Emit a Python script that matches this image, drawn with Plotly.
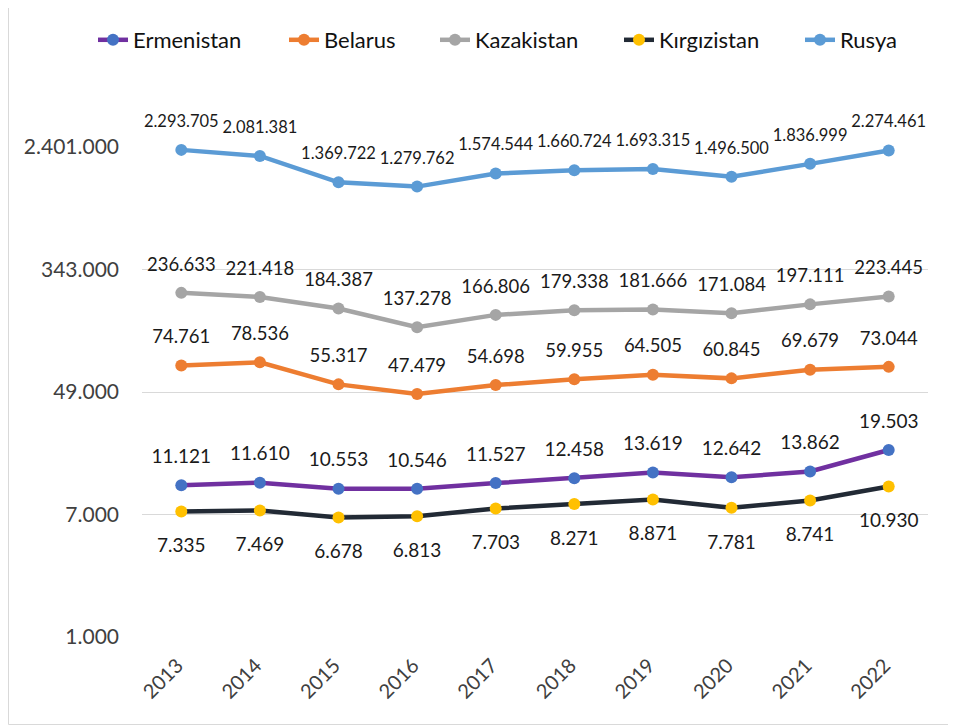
import numpy as np
import plotly.graph_objects as go

years = ["2013", "2014", "2015", "2016", "2017", "2018", "2019", "2020", "2021", "2022"]
ermenistan = [11121, 11610, 10553, 10546, 11527, 12458, 13619, 12642, 13862, 19503]
belarus = [74761, 78536, 55317, 47479, 54698, 59955, 64505, 60845, 69679, 73044]
kazakistan = [236633, 221418, 184387, 137278, 166806, 179338, 181666, 171084, 197111, 223445]
kirgizistan = [7335, 7469, 6678, 6813, 7703, 8271, 8871, 7781, 8741, 10930]
rusya = [2293705, 2081381, 1369722, 1279762, 1574544, 1660724, 1693315, 1496500, 1836999, 2274461]
y_ticks = [1000, 7000, 49000, 343000, 2401000]
y_tick_labels = ["1.000", "7.000", "49.000", "343.000", "2.401.000"]

# page has an 8px body margin, so the figure is drawn 8px in from the window edge
W, H = 948, 719
ML, MR, MT, MB = 134, 28, 139, 90
PW, PH = W - ML - MR, H - MT - MB

def fmt(v):
    return f"{v:,}".replace(",", ".")

series = [
    # name, values, line colour, marker colour, label side, label font size, legend x (px)
    ("Ermenistan", ermenistan, "#7030A0", "#4472C4", "top", 19, 85),
    ("Belarus", belarus, "#ED7D31", "#ED7D31", "top", 18.5, 276),
    ("Kazakistan", kazakistan, "#A5A5A5", "#A5A5A5", "top", 18.5, 427),
    ("Kırgızistan", kirgizistan, "#222A35", "#FFC000", "bottom", 19, 611),
    ("Rusya", rusya, "#5B9BD5", "#5B9BD5", "top", 16.5, 792),
]

FONT = "Lato"

def pad_size(side, fs):
    # invisible marker size that puts the label centre ~29px above / ~34px below the point
    if side == "top":
        r = 29 - 0.61 * fs
    else:
        r = 34 - 0.39 * fs
    return 2 * (r - 1) * 0.8

fig = go.Figure()
legends = {}
for i, (name, vals, lc, mc, side, fs, lx) in enumerate(series):
    lg = "legend" if i == 0 else f"legend{i+1}"
    fig.add_trace(go.Scatter(
        x=years, y=vals, name=name, mode="lines+markers",
        line=dict(color=lc, width=4.5),
        marker=dict(color=mc, size=12),
        cliponaxis=False, legend=lg,
    ))
    legends[lg] = dict(
        orientation="h", xref="container", yref="container",
        x=lx / W, xanchor="left", y=1 - 32 / H, yanchor="middle",
        font=dict(family=FONT, size=22, color="#111111"),
        bgcolor="rgba(0,0,0,0)",
    )

for name, vals, lc, mc, side, fs, lx in series:
    fig.add_trace(go.Scatter(
        x=years, y=vals, mode="markers+text",
        text=[fmt(v) for v in vals], textposition=f"{side} center",
        textfont=dict(family=FONT, size=fs, color="#1a1a1a"),
        marker=dict(size=pad_size(side, fs), color="rgba(0,0,0,0)"),
        showlegend=False, hoverinfo="skip", cliponaxis=False,
    ))

fig.update_layout(
    width=W, height=H,
    margin=dict(l=ML, r=MR, t=MT, b=MB),
    paper_bgcolor="white", plot_bgcolor="white",
    font=dict(family=FONT),
    showlegend=True,
    shapes=[dict(
        type="rect", xref="paper", yref="paper",
        x0=(0.5 - ML) / PW, x1=(W + 10 - ML) / PW,
        y0=-(716.5 - (H - MB)) / PH, y1=(H - MB + 20) / PH,
        line=dict(color="#D9D9D9", width=1), layer="below",
    )],
    **legends,
)

fig.update_xaxes(
    type="category", range=[-0.5, len(years) - 0.5],
    showgrid=False, showline=False, zeroline=False,
    tickangle=-45, ticks="", ticklabelstandoff=12, ticklabelshift=-4,
    tickfont=dict(family=FONT, size=20, color="#404040"),
)
fig.update_yaxes(
    type="log", range=[np.log10(y_ticks[0]), np.log10(y_ticks[-1])],
    tickmode="array", tickvals=y_ticks, ticktext=y_tick_labels,
    showgrid=True, gridcolor="#D9D9D9", gridwidth=1,
    showline=False, zeroline=False, ticks="", ticklabelstandoff=22,
    tickfont=dict(family=FONT, size=21, color="#404040"),
)

fig.write_html("out.html")
